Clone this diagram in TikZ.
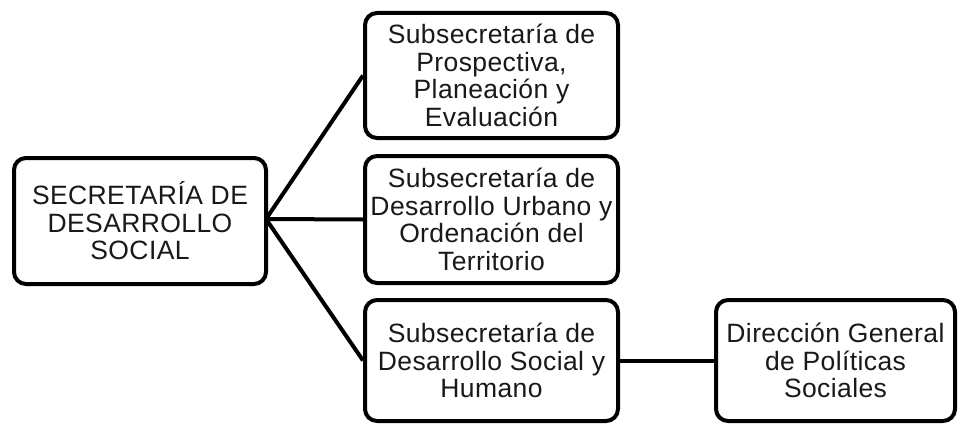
\documentclass[tikz,border=0pt]{standalone}
\usepackage{fontspec}
\setmainfont{Liberation Sans}[LetterSpace=1.5]
\begin{document}
\begin{tikzpicture}[x=1pt,y=1pt,
  box/.style={draw=black,line width=4pt,rounded corners=12pt,fill=white,
    align=center,inner sep=0pt,font=\fontsize{26.5}{27.5}\selectfont,text=black!90},
  conn/.style={draw=black,line width=4pt}]
\useasboundingbox (0,0) rectangle (960,424);
\node[box,minimum width=252pt,minimum height=126pt] (A) at (140,203)
  {SECRETARÍA DE\\DESARROLLO\\SOCIAL};
\node[box,minimum width=253pt,minimum height=125pt] (B1) at (491.5,348.5)
  {Subsecretaría de\\Prospectiva,\\Planeación y\\Evaluación};
\node[box,minimum width=253pt,minimum height=127pt] (B2) at (491.5,204.5)
  {Subsecretaría de\\Desarrollo Urbano y\\Ordenación del\\Territorio};
\node[box,minimum width=253pt,minimum height=121pt] (B3) at (491.5,63.5)
  {Subsecretaría de\\Desarrollo Social y\\Humano};
\node[box,minimum width=239pt,minimum height=121pt] (C) at (835.5,63.5)
  {Dirección General\\de Políticas\\Sociales};
\coordinate (J) at (266,205);
\draw[conn] (J) -- (B1.west);
\draw[conn] (J) -- (B2.west);
\draw[conn] (J) -- (B3.west);
\draw[conn] (B3.east) -- (C.west);
\end{tikzpicture}
\end{document}
